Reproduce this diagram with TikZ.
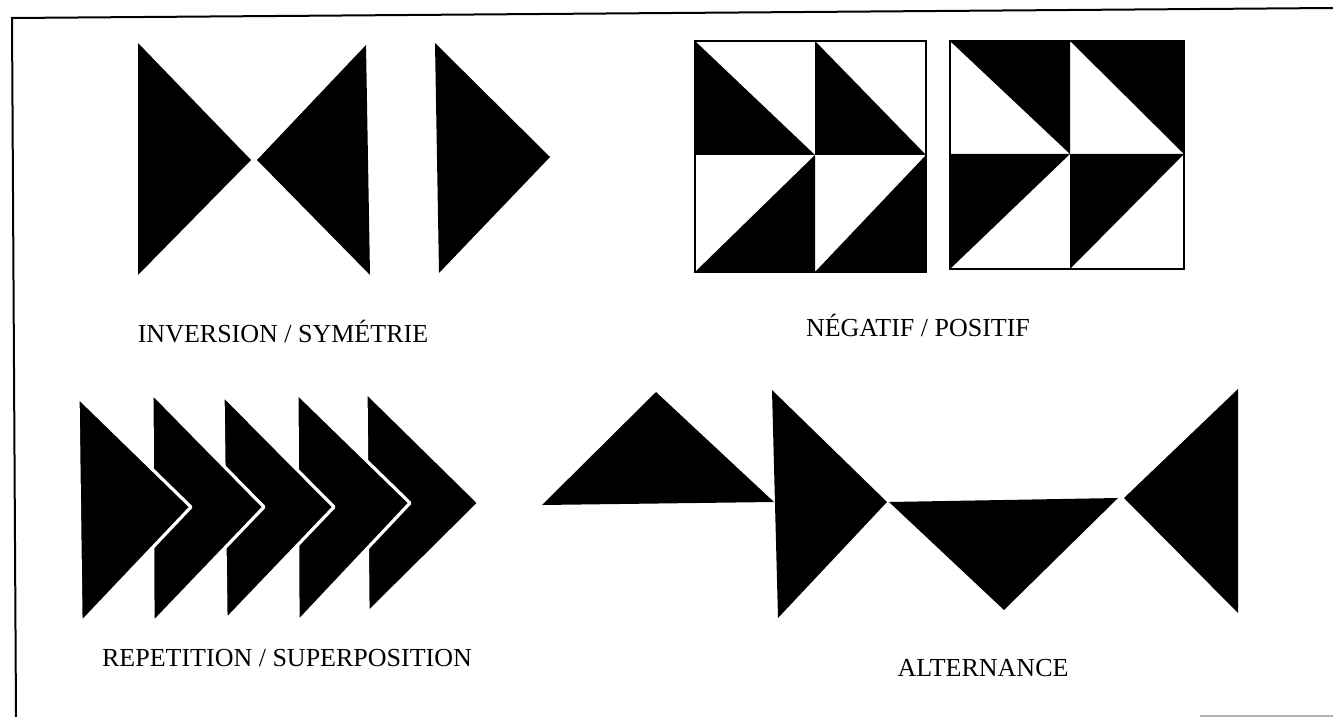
\documentclass[tikz,border=0pt]{standalone}
\usepackage{fontspec}
\setmainfont{Liberation Serif}
\begin{document}
\begin{tikzpicture}[x=0.5pt,y=-0.5pt,
  tri/.style={fill=black},
  layer/.style={fill=black,draw=white,line width=1.6pt,line join=round},
  box/.style={draw=black,line width=1.2pt},
  frameline/.style={line width=1pt},
  caption/.style={font=\fontsize{13}{15}\selectfont,inner sep=0pt}
]
\useasboundingbox (0,0) rectangle (1333,717);

% frame
\draw[frameline] (1333,8) -- (12,18) -- (16,717);
\draw[gray!60,line width=1pt] (1200,716) -- (1333,716);

% inversion / symetrie
\fill[tri] (138,43) -- (138,275) -- (251,160) -- cycle;
\fill[tri] (366,45) -- (370,275) -- (257,160) -- cycle;
\fill[tri] (435,43) -- (439,273) -- (550,157) -- cycle;
\node[caption] (inv) at (283,332) {INVERSION / SYMÉTRIE};

% negatif / positif
\fill[tri] (695,41) -- (695,155) -- (815,155) -- cycle;
\fill[tri] (815,41) -- (815,155) -- (926,155) -- cycle;
\fill[tri] (815,155) -- (815,272) -- (695,272) -- cycle;
\fill[tri] (926,155) -- (926,272) -- (815,272) -- cycle;
\draw[box] (695,41) rectangle (926,272);

\fill[tri] (950,41) -- (1070,41) -- (1070,154) -- cycle;
\fill[tri] (1070,41) -- (1184,41) -- (1184,154) -- cycle;
\fill[tri] (950,154) -- (1070,154) -- (950,269) -- cycle;
\fill[tri] (1070,154) -- (1184,154) -- (1070,269) -- cycle;
\draw[box] (950,41) rectangle (1184,269);
\node[caption] (neg) at (918,325) {NÉGATIF / POSITIF};

% repetition / superposition (back to front)
\foreach \xa/\ya/\xb/\yb/\xc/\yc in {366/392/368/613/479/503,
    297/393/298/622/410/503, 223/395/226/620/334/507,
    152/393/153/623/264/507, 78/397/81/623/191/507}
  \filldraw[layer] (\xa,\ya) -- (\xb,\yb) -- (\xc,\yc) -- cycle;
\node[caption] (rep) at (287,658) {REPETITION / SUPERPOSITION};

% alternance
\fill[tri] (542,505) -- (774,502) -- (656,392) -- cycle;
\fill[tri] (772,390) -- (778,618) -- (887,502) -- cycle;
\fill[tri] (889,502) -- (1118,498) -- (1004,610) -- cycle;
\fill[tri] (1124,498) -- (1238,389) -- (1238,613) -- cycle;
\node[caption] (alt) at (983,668) {ALTERNANCE};
\end{tikzpicture}
\end{document}
